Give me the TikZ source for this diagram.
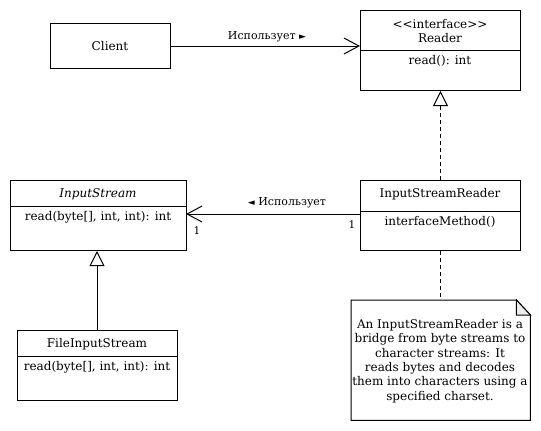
\documentclass[tikz,border=0pt]{standalone}
\usepackage{fontspec}
\setmainfont{DejaVu Serif}
\newfontfamily\symfont{DejaVu Sans}
\usetikzlibrary{arrows.meta}
\tikzset{
  classbox/.style={draw, line width=1pt, inner sep=0pt, anchor=north west},
  txt/.style={inner sep=0pt, font=\fontsize{12}{14}\selectfont},
  lbl/.style={inner sep=0pt, font=\fontsize{11}{12}\selectfont},
  mult/.style={inner sep=0pt, font=\fontsize{10.5}{12}\selectfont},
  assoc/.style={line width=1pt, -{Straight Barb[length=15pt,width=16pt,line width=1pt]}},
  realize/.style={line width=1pt, dash pattern=on 4pt off 3pt, -{Triangle[open,length=15pt,width=15pt,line width=1pt,fill=white]}},
  general/.style={line width=1pt, -{Triangle[open,length=15pt,width=15pt,line width=1pt,fill=white]}},
  notelink/.style={line width=1pt, dash pattern=on 4pt off 3pt},
}
\begin{document}
\begin{tikzpicture}[x=1pt,y=-1pt]
\useasboundingbox[fill=white] (0,0) rectangle (541,431);

% Client
\node[classbox, minimum width=120pt, minimum height=45pt] (client) at (50,23) {};
\node[txt] (clientt) at (110,46) {Client};

% Reader
\node[classbox, minimum width=160pt, minimum height=80pt] (reader) at (360,10) {};
\draw[line width=1pt] (360,50.5) -- (520,50.5);
\node[txt] (readers) at (440,24) {<{}<interface>{}>};
\node[txt] (readert) at (440,38) {Reader};
\node[txt] (readerm) at (440,61) {read(): int};

% InputStream
\node[classbox, minimum width=176pt, minimum height=70pt] (is) at (10,180) {};
\draw[line width=1pt] (10,206) -- (186,206);
\node[txt] (ist) at (98,194) {\itshape InputStream};
\node[txt] (ism) at (98,217) {read(byte[], int, int): int};

% InputStreamReader
\node[classbox, minimum width=160pt, minimum height=70pt] (isr) at (360,180) {};
\draw[line width=1pt] (360,211) -- (520,211);
\node[txt] (isrt) at (440,194) {InputStreamReader};
\node[txt] (isrm) at (440,222) {interfaceMethod()};

% FileInputStream
\node[classbox, minimum width=160pt, minimum height=70pt] (fis) at (17,330) {};
\draw[line width=1pt] (17,356) -- (177,356);
\node[txt] (fist) at (97,344) {FileInputStream};
\node[txt] (fism) at (97,367) {read(byte[], int, int): int};

% Note
\node[inner sep=0pt, minimum width=179pt, minimum height=120pt, anchor=north west] (note) at (351,300) {};
\draw[line width=1pt] (note.north west) -- ([xshift=-14pt]note.north east) -- ([yshift=-15pt]note.north east) -- (note.south east) -- (note.south west) -- cycle;
\filldraw[fill=gray!15, line width=1pt] ([xshift=-14pt]note.north east) -- ([xshift=-14pt,yshift=-15pt]note.north east) -- ([yshift=-15pt]note.north east) -- cycle;
\node[txt, align=center, font=\fontsize{12}{14.4}\selectfont] (notet) at (440,361) {An InputStreamReader is a\\bridge from byte streams to\\character streams: It\\reads bytes and decodes\\them into characters using a\\specified charset.};

% Connectors
\coordinate (c1) at (client.east -| reader.west);
\draw[assoc] (client.east) -- (c1);
\node[lbl] (l1) at (267,37) {Использует {\symfont\fontsize{9}{10}\selectfont ►}};

\coordinate (a2) at (360,214);
\coordinate (b2) at (186,214);
\draw[assoc] (a2) -- (b2);
\node[lbl] (l2) at (287,203) {{\symfont\fontsize{9}{10}\selectfont ◄} Использует};
\node[mult] (m1) at (197,231) {1};
\node[mult] (m2) at (352,225) {1};

\draw[realize] (isr.north) -- (reader.south);
\draw[general] (fis.north -| 97,0) -- (is.south -| 97,0);
\draw[notelink] (isr.south) -- (note.north -| isr.south);
\end{tikzpicture}
\end{document}
